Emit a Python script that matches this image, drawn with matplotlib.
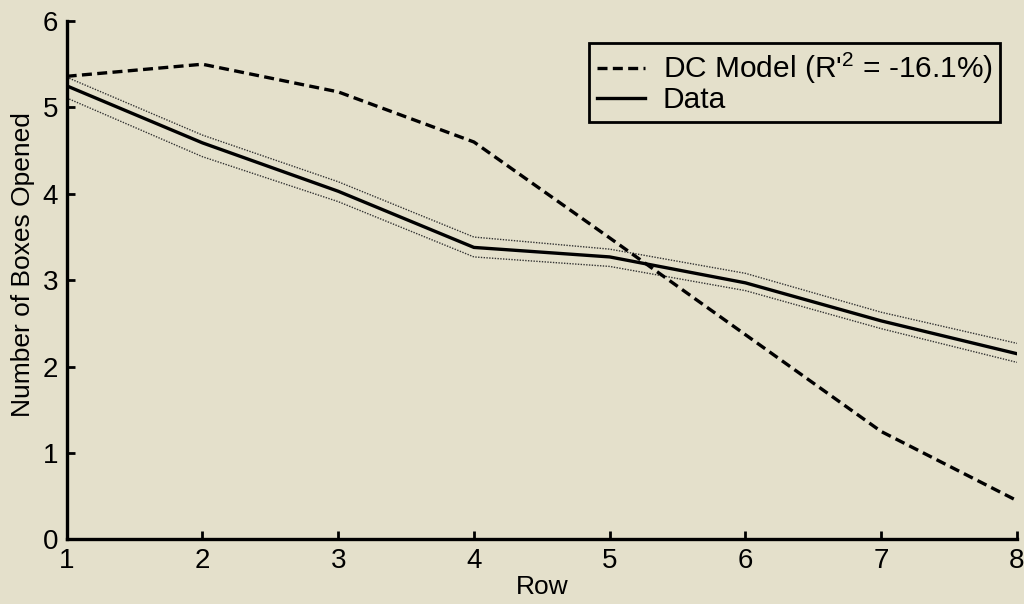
import matplotlib
matplotlib.use("agg")
import matplotlib.pyplot as plt

plt.rcParams["font.family"] = ["Liberation Sans", "DejaVu Sans"]
plt.rcParams["mathtext.fontset"] = "custom"
plt.rcParams["mathtext.rm"] = "Liberation Sans"

# values
rows = [1, 2, 3, 4, 5, 6, 7, 8]
dc_model = [5.36, 5.50, 5.18, 4.60, 3.49, 2.37, 1.25, 0.45]
data_mean = [5.25, 4.59, 4.03, 3.38, 3.27, 2.97, 2.53, 2.15]
data_upper = [5.35, 4.68, 4.14, 3.50, 3.36, 3.08, 2.63, 2.27]
data_lower = [5.11, 4.43, 3.91, 3.27, 3.16, 2.88, 2.44, 2.05]
dc_label = "DC Model (R'$^{\\mathregular{2}}$ = -16.1%)"

bg = "#e4e0cb"
fig = plt.figure(figsize=(10.24, 6.04), dpi=100, facecolor=bg)
ax = fig.add_axes([0.0651, 0.1068, 0.928, 0.8584])
ax.set_facecolor(bg)

ax.plot(rows, data_upper, color="#333333", lw=1.0, ls=(0, (1, 1)))
ax.plot(rows, data_lower, color="#333333", lw=1.0, ls=(0, (1, 1)))
ax.plot(rows, dc_model, color="black", lw=2.4, ls=(0, (3, 1.6)), label=dc_label)
ax.plot(rows, data_mean, color="black", lw=2.4, label="Data")

ax.set_xlim(1, 8)
ax.set_ylim(0, 6)
ax.set_xticks(rows)
ax.set_yticks(range(0, 7))
ax.tick_params(direction="in", length=6, width=2, labelsize=20)
ax.tick_params(axis="x", pad=6)
ax.tick_params(axis="y", pad=6)
for s in ["top", "right"]:
    ax.spines[s].set_visible(False)
for s in ["left", "bottom"]:
    ax.spines[s].set_linewidth(2.4)

ax.set_xlabel("Row", fontsize=19, labelpad=1)
ax.set_ylabel("Number of Boxes Opened", fontsize=19)
ax.yaxis.set_label_coords(-0.033, 0.53)

leg = ax.legend(loc="upper right", bbox_to_anchor=(0.9765, 0.929),
                bbox_transform=fig.transFigure, borderaxespad=0,
                fontsize=21.5, fancybox=False, framealpha=1, facecolor=bg,
                edgecolor="black", handlelength=1.6, borderpad=0.25,
                labelspacing=0.0, handletextpad=0.6)
leg.get_frame().set_linewidth(2)

fig.savefig("out.png", dpi=100, facecolor=bg)
